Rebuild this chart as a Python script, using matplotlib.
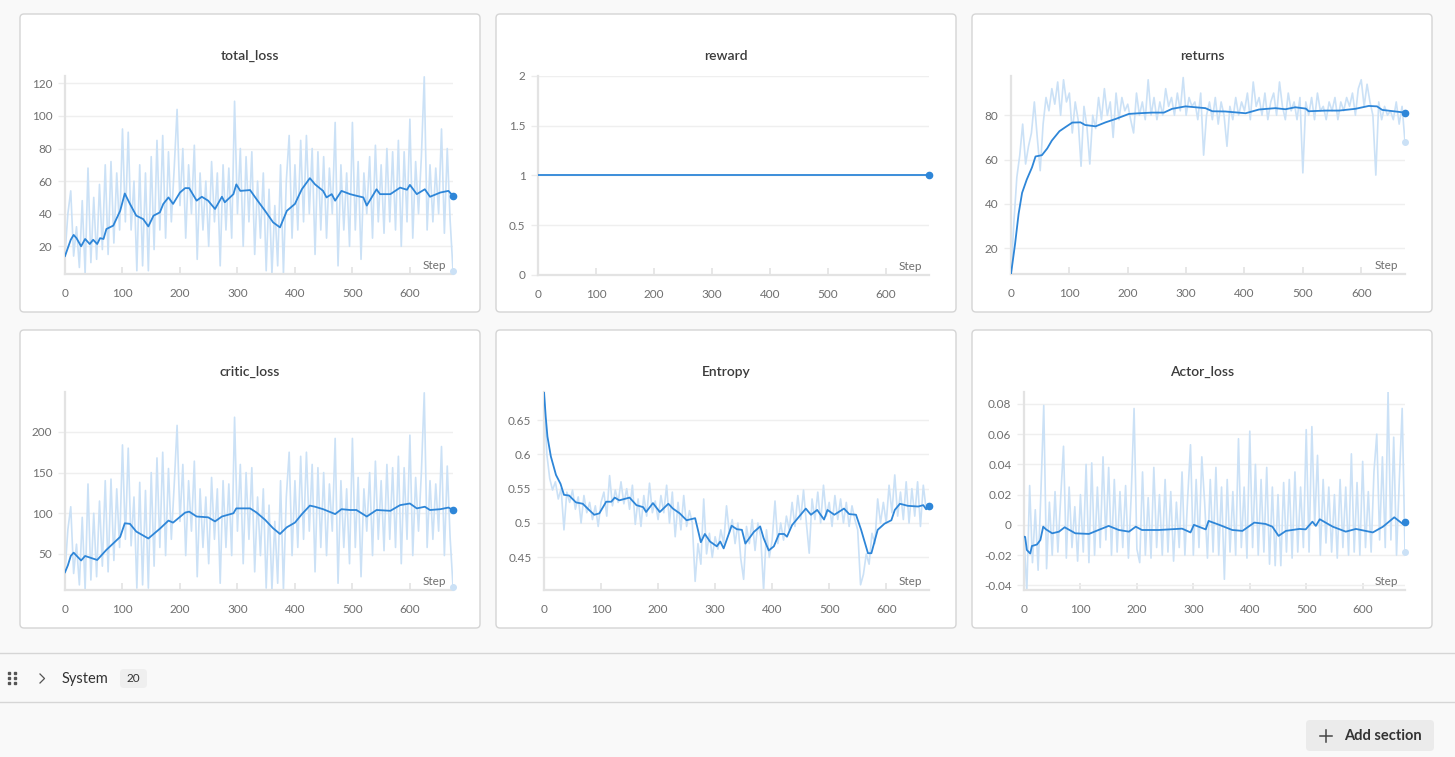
import numpy as np
import matplotlib
matplotlib.use("Agg")
import matplotlib.pyplot as plt
from matplotlib.patches import FancyBboxPatch
from matplotlib.ticker import FuncFormatter

plt.rcParams['font.family'] = ['Lato', 'DejaVu Sans']

# --- donnees --------------------------------------------------------------
raw_steps = list(range(0, 676, 5))

total_raw = [
    15, 40, 54, 14, 32, 7, 48, 3, 68, 10,
    50, 12, 58, 18, 70, 15, 72, 22, 65, 30,
    92, 35, 90, 30, 60, 5, 70, 8, 65, 5,
    75, 18, 85, 30, 88, 25, 78, 35, 68, 104,
    45, 80, 25, 70, 40, 82, 12, 65, 30, 60,
    20, 72, 35, 65, 8, 70, 30, 68, 25, 109,
    40, 80, 20, 75, 35, 78, 15, 60, 25, 65,
    5, 55, 3, 45, 8, 70, 3, 60, 88, 25,
    70, 30, 85, 35, 88, 40, 80, 15, 78, 30,
    75, 25, 68, 40, 96, 8, 70, 30, 65, 20,
    96, 30, 72, 12, 65, 40, 75, 25, 82, 35,
    70, 28, 80, 35, 78, 30, 85, 20, 78, 35,
    98, 25, 72, 40, 75, 124, 30, 70, 35, 68,
    40, 92, 28, 80, 36, 5]
total_steps = [0, 5, 10, 15, 20, 28, 35, 43, 49, 56, 61, 67, 72, 84, 96, 104, 113,
               124, 136, 145, 154, 165, 171, 180, 188, 200, 209, 216, 229, 238,
               249, 261, 273, 278, 293, 298, 305, 322, 333, 348, 362, 374, 386,
               400, 412, 426, 435, 449, 455, 464, 470, 481, 496, 507, 519, 525,
               542, 548, 566, 583, 595, 600, 612, 626, 635, 653, 667, 675]
total_smooth = [14, 19, 24, 27, 25, 20, 24.5, 21.4, 24, 21.4, 25, 24.5, 30.6, 32.7,
                41.8, 52.4, 46, 38.8, 36.7, 32.2, 38.8, 40.8, 46, 50, 46, 53,
                55.7, 55.7, 48, 50.4, 48, 42.9, 50.4, 47, 52, 58, 54, 54.5, 49,
                41.8, 34.7, 31.6, 41.8, 46, 55, 61.8, 58, 54, 50, 52, 48, 54, 52,
                51, 50, 45, 55, 52, 52, 56, 54.7, 57.7, 52, 55, 50.4, 53, 54, 51]

reward_steps = [0, 675]
reward_values = [1, 1]

returns_raw = [
    8, 32, 52, 62, 76, 58, 66, 72, 86, 70,
    55, 76, 88, 82, 92, 85, 95, 80, 96, 86,
    90, 72, 86, 78, 57, 84, 75, 58, 80, 74,
    88, 78, 92, 80, 86, 70, 90, 78, 88, 82,
    85, 78, 72, 90, 80, 86, 78, 96, 80, 88,
    78, 86, 80, 92, 84, 88, 80, 90, 82, 97,
    80, 88, 84, 86, 78, 90, 62, 80, 86, 78,
    88, 76, 86, 80, 66, 84, 78, 88, 80, 86,
    82, 90, 78, 95, 84, 88, 80, 90, 78, 86,
    90, 80, 95, 84, 78, 90, 82, 86, 78, 88,
    54, 86, 80, 88, 78, 90, 82, 84, 78, 86,
    82, 88, 78, 86, 82, 88, 84, 90, 80, 92,
    96, 84, 94, 86, 80, 53, 86, 78, 84, 80,
    82, 78, 86, 76, 84, 68]
returns_steps = [0, 7, 13, 19, 27, 36, 42, 53, 62, 70, 83, 93, 105, 119, 127, 145,
                 162, 179, 202, 219, 242, 262, 276, 299, 333, 345, 367, 402, 425,
                 453, 470, 487, 505, 510, 539, 562, 590, 613, 627, 636, 675]
returns_smooth = [8.4, 22, 35.5, 45, 51, 56.5, 61.4, 62, 65, 68.6, 72.8, 74.6, 76.7,
                  76.8, 75.6, 75, 76.8, 78.3, 80.6, 80.9, 81.2, 81.2, 82.9, 84,
                  83.2, 81.8, 81.7, 80.9, 82.6, 83.2, 82.7, 83.6, 83, 81.8, 82.1,
                  82.1, 82.9, 84.2, 84, 82.4, 81.2]

critic_raw = [
    28, 80, 108, 26, 62, 12, 95, 6, 136, 18,
    100, 22, 115, 35, 140, 28, 142, 42, 130, 58,
    184, 68, 180, 60, 120, 8, 138, 12, 128, 8,
    150, 35, 168, 58, 175, 48, 155, 68, 135, 208,
    90, 160, 48, 140, 78, 164, 22, 130, 58, 120,
    38, 144, 68, 130, 14, 140, 58, 136, 48, 218,
    78, 160, 38, 150, 68, 156, 28, 120, 48, 130,
    8, 110, 6, 90, 14, 140, 6, 120, 175, 48,
    140, 58, 170, 68, 175, 78, 160, 28, 156, 58,
    150, 48, 136, 78, 192, 14, 140, 58, 130, 38,
    192, 58, 144, 22, 130, 78, 150, 48, 164, 68,
    140, 54, 160, 68, 156, 58, 170, 38, 156, 68,
    196, 48, 144, 78, 150, 248, 58, 140, 68, 136,
    78, 182, 48, 158, 70, 10]
critic_steps = [0, 5, 10, 15, 28, 35, 56, 72, 96, 104, 113, 124, 145, 165, 180, 188,
                209, 216, 229, 249, 261, 273, 293, 298, 322, 333, 348, 362, 374,
                386, 400, 412, 426, 435, 449, 470, 481, 496, 507, 525, 542, 566,
                583, 600, 612, 626, 635, 653, 667, 675]
critic_smooth = [27.5, 36, 47.5, 51.6, 42, 47.5, 42.6, 55, 71, 87.7, 87, 77.5, 69,
                 81, 91, 88.5, 100.8, 102, 96, 95, 90, 96, 100, 106, 106, 101, 92,
                 81.6, 74.6, 82.8, 88.5, 98.8, 109.4, 108, 105, 99, 105, 104, 104,
                 96, 104, 103, 110, 112, 106, 108, 104, 105, 107, 104]

entropy_raw = [
    0.690, 0.600, 0.565, 0.548, 0.560, 0.535, 0.550, 0.490, 0.545, 0.530,
    0.548, 0.520, 0.538, 0.500, 0.540, 0.515, 0.530, 0.505, 0.525, 0.495,
    0.530, 0.545, 0.510, 0.569, 0.525, 0.548, 0.530, 0.560, 0.528, 0.550,
    0.520, 0.555, 0.498, 0.535, 0.495, 0.540, 0.510, 0.558, 0.515, 0.532,
    0.505, 0.540, 0.515, 0.555, 0.500, 0.545, 0.480, 0.530, 0.490, 0.540,
    0.495, 0.518, 0.500, 0.415, 0.470, 0.440, 0.535, 0.455, 0.485, 0.450,
    0.480, 0.462, 0.490, 0.470, 0.525, 0.485, 0.505, 0.470, 0.500, 0.448,
    0.418, 0.495, 0.470, 0.505, 0.460, 0.500, 0.480, 0.402, 0.490, 0.450,
    0.475, 0.532, 0.470, 0.500, 0.475, 0.510, 0.490, 0.530, 0.495, 0.540,
    0.505, 0.548, 0.500, 0.456, 0.535, 0.505, 0.545, 0.500, 0.555, 0.510,
    0.530, 0.495, 0.540, 0.505, 0.535, 0.500, 0.530, 0.495, 0.525, 0.505,
    0.490, 0.410, 0.425, 0.455, 0.440, 0.485, 0.470, 0.535, 0.500, 0.530,
    0.500, 0.555, 0.515, 0.570, 0.510, 0.545, 0.505, 0.560, 0.500, 0.550,
    0.510, 0.560, 0.495, 0.555, 0.520, 0.525]
entropy_steps = [0, 3, 6, 12, 21, 29, 35, 44, 56, 68, 79, 88, 97, 109, 118, 124,
                 132, 150, 162, 174, 179, 191, 203, 218, 226, 238, 250, 265, 275,
                 282, 291, 303, 309, 315, 329, 338, 347, 353, 368, 379, 385, 394,
                 403, 412, 421, 426, 435, 447, 459, 468, 479, 491, 497, 509, 526,
                 535, 547, 556, 568, 574, 585, 597, 609, 615, 624, 638, 656, 665,
                 670, 675]
entropy_smooth = [0.691, 0.655, 0.626, 0.597, 0.570, 0.557, 0.541, 0.540, 0.530,
                  0.528, 0.519, 0.512, 0.514, 0.531, 0.531, 0.537, 0.533, 0.537,
                  0.526, 0.523, 0.516, 0.529, 0.516, 0.528, 0.521, 0.514, 0.504,
                  0.507, 0.472, 0.484, 0.473, 0.466, 0.473, 0.463, 0.496, 0.491,
                  0.490, 0.470, 0.487, 0.495, 0.478, 0.460, 0.466, 0.484, 0.484,
                  0.480, 0.497, 0.509, 0.521, 0.512, 0.519, 0.505, 0.519, 0.512,
                  0.521, 0.513, 0.512, 0.490, 0.456, 0.456, 0.490, 0.499, 0.504,
                  0.519, 0.528, 0.525, 0.524, 0.526, 0.520, 0.525]

actor_raw = [
    -0.008, -0.044, 0.026, -0.025, 0.010, -0.030, 0.022, 0.079, -0.029, 0.015,
    -0.020, 0.022, -0.018, 0.018, 0.052, -0.022, 0.025, -0.015, 0.012, -0.024,
    0.020, -0.018, 0.040, -0.025, 0.041, -0.020, 0.025, -0.015, 0.045, -0.010,
    0.038, -0.020, 0.030, -0.018, 0.022, -0.015, 0.026, -0.022, 0.020, 0.077,
    -0.016, -0.025, 0.035, -0.020, 0.018, -0.022, 0.038, -0.015, 0.020, -0.020,
    0.030, -0.018, 0.022, -0.024, 0.015, -0.015, 0.035, -0.020, 0.018, 0.053,
    -0.020, 0.030, -0.015, 0.045, 0.015, -0.022, 0.030, -0.018, 0.038, -0.020,
    0.025, -0.036, 0.030, -0.018, 0.022, -0.020, 0.057, -0.015, 0.025, -0.022,
    0.062, -0.015, 0.040, -0.020, 0.030, -0.018, 0.038, -0.026, 0.025, -0.027,
    0.020, -0.027, 0.028, -0.018, 0.030, -0.022, 0.035, -0.018, 0.025, -0.015,
    0.063, -0.018, 0.065, 0.000, 0.046, -0.020, 0.030, -0.012, 0.025, -0.018,
    0.020, -0.022, 0.030, -0.015, 0.025, -0.020, 0.047, -0.018, 0.028, -0.020,
    0.042, -0.015, 0.022, -0.018, 0.035, 0.060, -0.010, 0.045, -0.015, 0.088,
    -0.010, 0.058, -0.020, 0.030, 0.077, -0.018]
actor_steps = [0, 2, 5, 11, 14, 23, 29, 34, 39, 50, 62, 72, 91, 115, 132, 150, 168,
               186, 198, 209, 239, 280, 295, 301, 322, 327, 346, 369, 387, 408,
               428, 440, 451, 464, 488, 499, 511, 517, 524, 547, 570, 588, 618,
               636, 656, 671, 675]
actor_smooth = [-0.0078, -0.008, -0.0166, -0.019, -0.014, -0.013, -0.010, -0.0012,
                -0.003, -0.0056, -0.0045, -0.0016, -0.0056, -0.006, -0.0034,
                -0.0007, -0.0034, -0.0045, -0.0012, -0.0034, -0.0034, -0.0025,
                -0.005, 0.0, -0.003, 0.0026, 0.0, -0.0034, -0.004, 0.0015, 0.0006,
                -0.0012, -0.0073, -0.004, -0.0027, -0.003, 0.0021, -0.0007, 0.0037,
                -0.0012, -0.0045, -0.0027, -0.005, -0.0012, 0.005, 0.0006, 0.0021]

x_ticks = [0, 100, 200, 300, 400, 500, 600]

# --- mise en page (pixels de l'image) -------------------------------------
W, H = 1455, 757
BG = '#f9f9f9'
SMOOTH = '#2e86d8'
RAW = '#cbe1f6'
GRID = '#efefef'
AXIS = '#e3e3e3'
TICK_TXT = '#6f6f6f'

fig = plt.figure(figsize=(W / 100, H / 100), dpi=100, facecolor=BG)

# axe de fond en coordonnees pixel
bg = fig.add_axes([0, 0, 1, 1], zorder=0)
bg.set_xlim(0, W)
bg.set_ylim(H, 0)
bg.axis('off')


def px_axes(x0, y0, x1, y1):
    return fig.add_axes([x0 / W, 1 - y1 / H, (x1 - x0) / W, (y1 - y0) / H], zorder=2)


panels = [
    # titre, boite panneau, zone de trace, ylim, yticks, raw, smooth
    ('total_loss', (20, 14, 480, 312), (65, 76, 453, 274), (3, 124.5),
     [20, 40, 60, 80, 100, 120], total_raw, (total_steps, total_smooth)),
    ('reward', (496, 14, 956, 312), (538, 76, 929, 275), (0, 2),
     [0, 0.5, 1, 1.5, 2], None, (reward_steps, reward_values)),
    ('returns', (972, 14, 1432, 312), (1011, 76, 1405, 274), (8.4, 97.7),
     [20, 40, 60, 80], returns_raw, (returns_steps, returns_smooth)),
    ('critic_loss', (20, 330, 480, 628), (65, 392, 453, 590), (5.7, 249),
     [50, 100, 150, 200], critic_raw, (critic_steps, critic_smooth)),
    ('Entropy', (496, 330, 956, 628), (544, 392, 929, 590), (0.4024, 0.6908),
     [0.45, 0.5, 0.55, 0.6, 0.65], entropy_raw, (entropy_steps, entropy_smooth)),
    ('Actor_loss', (972, 330, 1432, 628), (1024, 392, 1405, 590), (-0.0431, 0.0879),
     [-0.04, -0.02, 0, 0.02, 0.04, 0.06, 0.08], actor_raw, (actor_steps, actor_smooth)),
]

for title, box, area, ylim, yticks, raw, (s_steps, s_vals) in panels:
    bx0, by0, bx1, by1 = box
    bg.add_patch(FancyBboxPatch((bx0, by0), bx1 - bx0, by1 - by0,
                                boxstyle='round,pad=0,rounding_size=4',
                                facecolor='white', edgecolor='#d5d5d5', lw=1))
    bg.text((bx0 + bx1) / 2, by0 + 42, title, ha='center', va='center',
            fontsize=10, fontweight='semibold', color='#3b3b3b')

    ax = px_axes(*area)
    ax.set_facecolor('white')
    if raw is not None:
        ax.plot(raw_steps, raw, color=RAW, lw=1.2, zorder=2)
        ax.plot(raw_steps[-1], raw[-1], 'o', color=RAW, ms=4, clip_on=False, zorder=3)
    ax.plot(s_steps, s_vals, color=SMOOTH, lw=1.3, zorder=4)
    ax.plot(s_steps[-1], s_vals[-1], 'o', color=SMOOTH, ms=4.5, clip_on=False, zorder=5)

    ax.set_xlim(0, 675)
    ax.set_ylim(*ylim)
    ax.set_xticks(x_ticks)
    ax.set_yticks(yticks)
    ax.yaxis.set_major_formatter(FuncFormatter(lambda v, p: f'{v:g}'))
    ax.grid(axis='y', color=GRID, lw=1)
    ax.set_axisbelow(True)
    for side in ('top', 'right'):
        ax.spines[side].set_visible(False)
    for side in ('left', 'bottom'):
        ax.spines[side].set_color(AXIS)
        ax.spines[side].set_linewidth(1.6)
    ax.tick_params(axis='x', direction='in', length=5, width=1.2, color=AXIS,
                   labelsize=8.5, labelcolor=TICK_TXT, pad=10)
    ax.tick_params(axis='y', direction='out', length=5, width=1, color='#ececec',
                   labelsize=8.5, labelcolor=TICK_TXT, pad=4)
    ax.text(0.982, 0.045, 'Step', transform=ax.transAxes, ha='right', va='center',
            fontsize=8.5, color=TICK_TXT, zorder=6)

# --- bas de page : section System et bouton ---------------------------------
bg.plot([0, W], [653, 653], color='#d6d6d6', lw=1)
bg.plot([0, W], [702, 702], color='#d6d6d6', lw=1)
for gx in (9, 15):
    for gy in (673, 678, 683):
        bg.plot(gx, gy, 's', color='#555555', ms=1.6)
bg.plot([40, 44.5, 40], [674, 678.5, 683], color='#555555', lw=0.9)
bg.text(62, 678.5, 'System', ha='left', va='center', fontsize=10.5, color='#333333')
bg.add_patch(FancyBboxPatch((120, 669), 27, 19, boxstyle='round,pad=0,rounding_size=4',
                            facecolor='#efefef', edgecolor='none'))
bg.text(133.5, 678.5, '20', ha='center', va='center', fontsize=8.5, color='#333333')

bg.add_patch(FancyBboxPatch((1306, 720), 128, 31, boxstyle='round,pad=0,rounding_size=4',
                            facecolor='#ebebeb', edgecolor='none'))
bg.plot([1320, 1332], [735.5, 735.5], color='#444444', lw=1.1)
bg.plot([1326, 1326], [729.5, 741.5], color='#444444', lw=1.1)
bg.text(1344, 735.5, 'Add section', ha='left', va='center', fontsize=10.5,
        fontweight='bold', color='#333333')

fig.savefig('out.png', dpi=100, facecolor=BG)
